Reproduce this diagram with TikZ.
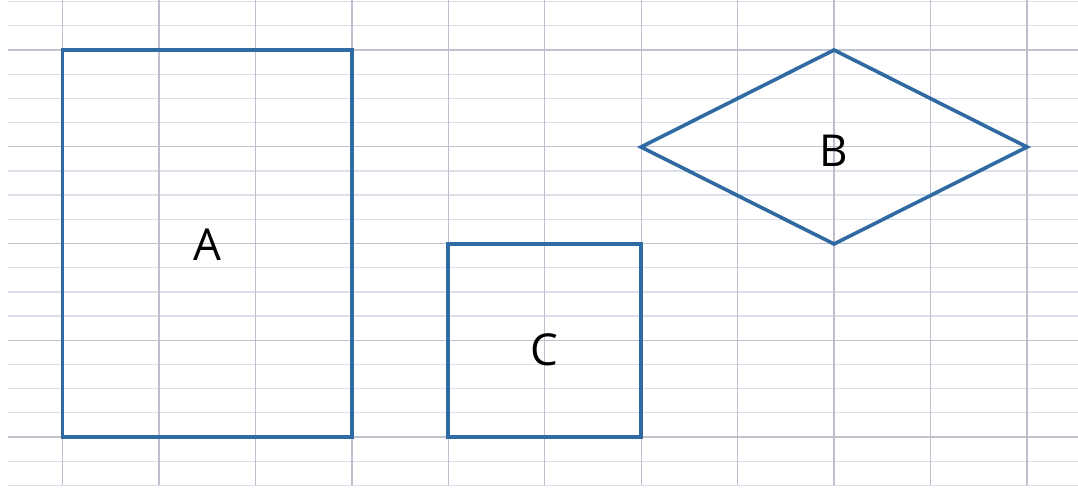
\documentclass[tikz,border=0pt]{standalone}
\usepackage{fontspec}
\setmainfont{Open Sans}
\usepackage{tikz}
\usetikzlibrary{shapes.geometric}
\definecolor{shapeblue}{HTML}{2F6AA3}
\definecolor{minorgrid}{HTML}{D9E0EA}
\definecolor{majorgrid}{HTML}{BFC3CD}
\definecolor{vertgrid}{HTML}{BEBECE}

\begin{document}
\begin{tikzpicture}[
    x=1pt, y=-1pt,
    font=\fontsize{44}{50}\selectfont,
    minor/.style={
		draw=minorgrid,
		line width=1.3pt
	},
	major/.style={
		draw=majorgrid,
		line width=1.5pt
	},
	vert/.style={
		draw=vertgrid,
		line width=1.4pt
	},
	figure/.style={
		draw=shapeblue,
		line width=3.6pt,
		inner sep=0pt,
		outer sep=0pt,
		text=black
	}
  ]
  \useasboundingbox (0,0) rectangle (1078,496);

    % the squared paper first
  \foreach \j in {0,...,20} {
    \pgfmathsetmacro{\yy}{1.6+24.19*\j}
    \pgfmathtruncatemacro{\m}{mod(\j,4)}
    \ifnum\m=2
      \draw [major] (8,\yy) -- (1078,\yy);
    \else
      \draw [minor] (8,\yy) -- (1078,\yy);
    \fi
  }
  \foreach \i in {0,...,10} {
    \draw [vert] (62.5+96.45*\i,0) -- (62.5+96.45*\i,485);
  }

    % then the three figures
  \node [figure, rectangle, minimum width=289.5pt, minimum height=387pt] (rectA)
    at (207.2,243.5) {};
  \node [figure, rectangle, minimum width=193pt, minimum height=193pt] (squareC)
    at (544.5,340.5) {};
  \node [figure, diamond, minimum width=386pt, minimum height=194pt] (diamondB)
    at (834,147) {};

  \node (labelA) at ([yshift=-1pt]rectA.center) {A};
  \node (labelB) at ([yshift=-4pt]diamondB.center) {B};
  \node (labelC) at ([yshift=-9pt]squareC.center) {C};

\end{tikzpicture}
\end{document}
